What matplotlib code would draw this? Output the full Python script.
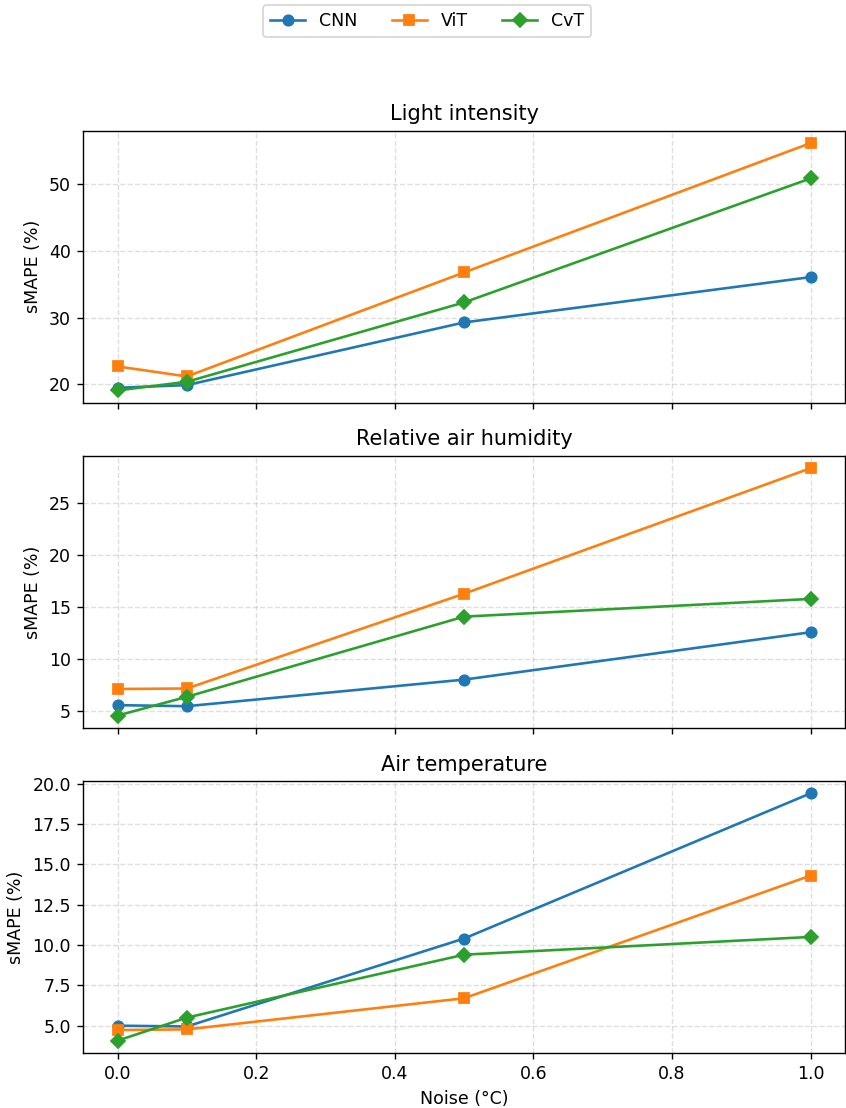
import matplotlib
matplotlib.use("Agg")
import matplotlib.pyplot as plt

# Noise levels and sMAPE (%) per model, one list per panel
noise = [0.0, 0.1, 0.5, 1.0]
models = ["CNN", "ViT", "CvT"]
markers = ["o", "s", "D"]

titles = ["Light intensity", "Relative air humidity", "Air temperature"]

light_cnn = [19.5, 19.9, 29.3, 36.1]
light_vit = [22.7, 21.2, 36.8, 56.2]
light_cvt = [19.1, 20.4, 32.3, 50.9]

humid_cnn = [5.6, 5.5, 8.05, 12.6]
humid_vit = [7.15, 7.2, 16.3, 28.35]
humid_cvt = [4.6, 6.4, 14.1, 15.8]

temp_cnn = [5.0, 4.95, 10.4, 19.4]
temp_vit = [4.73, 4.77, 6.7, 14.3]
temp_cvt = [4.07, 5.5, 9.4, 10.5]

panels = [
    [light_cnn, light_vit, light_cvt],
    [humid_cnn, humid_vit, humid_cvt],
    [temp_cnn, temp_vit, temp_cvt],
]

fig, axes = plt.subplots(3, 1, figsize=(6.768, 8.864), dpi=125, sharex=True)
fig.subplots_adjust(left=0.098, right=0.999, top=0.882, bottom=0.0496, hspace=0.195)

for ax, title, series in zip(axes, titles, panels):
    for name, mk, vals in zip(models, markers, series):
        ax.plot(noise, vals, marker=mk, label=name)
    ax.set_title(title)
    ax.set_ylabel("sMAPE (%)")
    ax.grid(True, linestyle="--", alpha=0.4)

axes[-1].set_xlabel("Noise (°C)")

handles, labels = axes[0].get_legend_handles_labels()
fig.legend(handles, labels, loc="upper center", bbox_to_anchor=(0.505, 1.003), ncol=3)

plt.savefig("out.png", dpi=125)
